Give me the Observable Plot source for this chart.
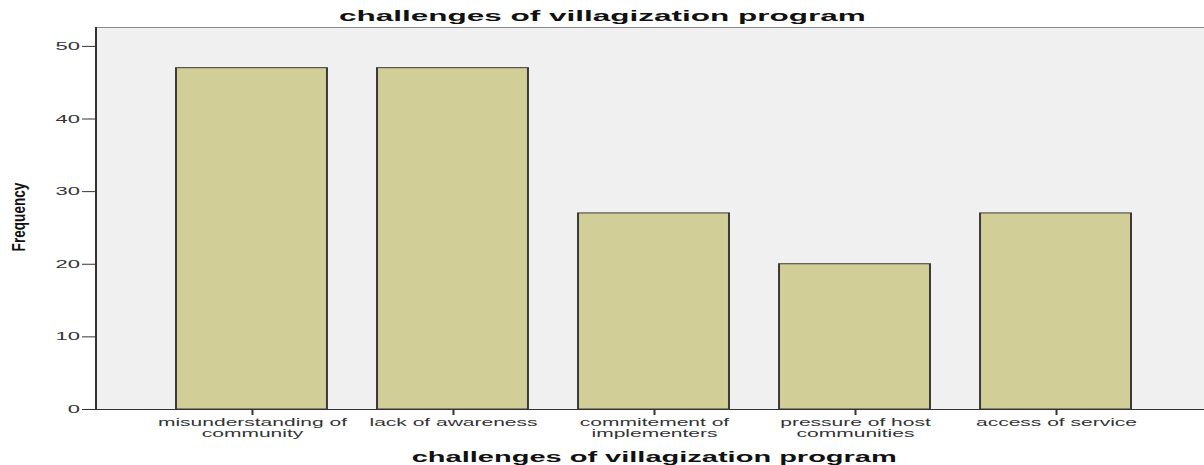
<!DOCTYPE html>
<html>
<head>
<meta charset="utf-8">
<script src="https://cdn.jsdelivr.net/npm/d3@7"></script>
<script src="https://cdn.jsdelivr.net/npm/@observablehq/plot@0.6"></script>
<style>
  html, body { margin: 0; padding: 0; background: #ffffff; overflow: hidden; }
  #wrap { position: relative; width: 1204px; height: 465px; font-family: "Liberation Sans", Arial, sans-serif; }
  #wrap svg { position: absolute; left: 0; top: 0; transform: scaleX(2); transform-origin: 0 0; }
  .title { position: absolute; left: 0; top: 8px; width: 1204px; text-align: center; font-weight: bold; font-size: 15px; line-height: 15px; color: #111; }
  .title span, .xlab span { display: inline-block; transform-origin: center; }
  .title span { transform: scaleX(2.1); }
  .xlab { position: absolute; left: 95px; top: 450px; width: 1118px; text-align: center; font-weight: bold; font-size: 14.5px; line-height: 14.5px; color: #111; }
  .xlab span { transform: scaleX(2.0); }
  .ylab { position: absolute; left: -30px; top: 209px; width: 100px; height: 16px; line-height: 16px; text-align: center; font-weight: bold; font-size: 13.6px; color: #111; transform: rotate(-90deg) scaleY(1.3); transform-origin: center; }
</style>
</head>
<body>
<div id="wrap">
  <div class="title"><span id="title"></span></div>
  <div class="ylab" id="ylab"></div>
  <div class="xlab"><span id="xlab"></span></div>
</div>
<script>
const titleText = "challenges of villagization program";
const xLabel = "challenges of villagization program";
const yLabel = "Frequency";
const categories = [
  "misunderstanding of\ncommunity",
  "lack of awareness",
  "commitement of\nimplementers",
  "pressure of host\ncommunities",
  "access of service"
];
const frequencies = [47, 47, 27, 20, 27];
const yTicks = [0, 10, 20, 30, 40, 50];
const yMax = 52.6;

const data = categories.map((c, i) => ({category: c, frequency: frequencies[i]}));

document.getElementById("title").textContent = titleText;
document.getElementById("xlab").textContent = xLabel;
document.getElementById("ylab").textContent = yLabel;

const chart = Plot.plot({
  width: 602,
  height: 465,
  marginLeft: 47.5,
  marginRight: 0,
  marginTop: 27,
  marginBottom: 56,
  style: {fontFamily: "Liberation Sans, Arial, sans-serif", color: "#333", background: "transparent"},
  x: {domain: categories, range: [47.5, 606], paddingInner: 0.249, paddingOuter: 0.403, round: false, label: null},
  y: {domain: [0, yMax], label: null},
  marks: [
    Plot.frame({fill: "#f0f0f0", stroke: null}),
    Plot.frame({anchor: "top", stroke: "#8a8a8a"}),
    Plot.barY(data, {x: "category", y: "frequency", fill: "#d2ce98", stroke: "#3a3a3a", strokeWidth: 1}),
    Plot.frame({anchor: "left", stroke: "#333"}),
    Plot.frame({anchor: "bottom", stroke: "#333"}),
    Plot.axisY({ticks: yTicks, tickSize: 6.5, tickPadding: 1.5, fontSize: 11, label: null, stroke: "#333"}),
    Plot.axisX({tickSize: 6, tickPadding: 3, fontSize: 10.5, lineHeight: 1.05, label: null, stroke: "#333"})
  ]
});
document.getElementById("wrap").appendChild(chart);
</script>
</body>
</html>
